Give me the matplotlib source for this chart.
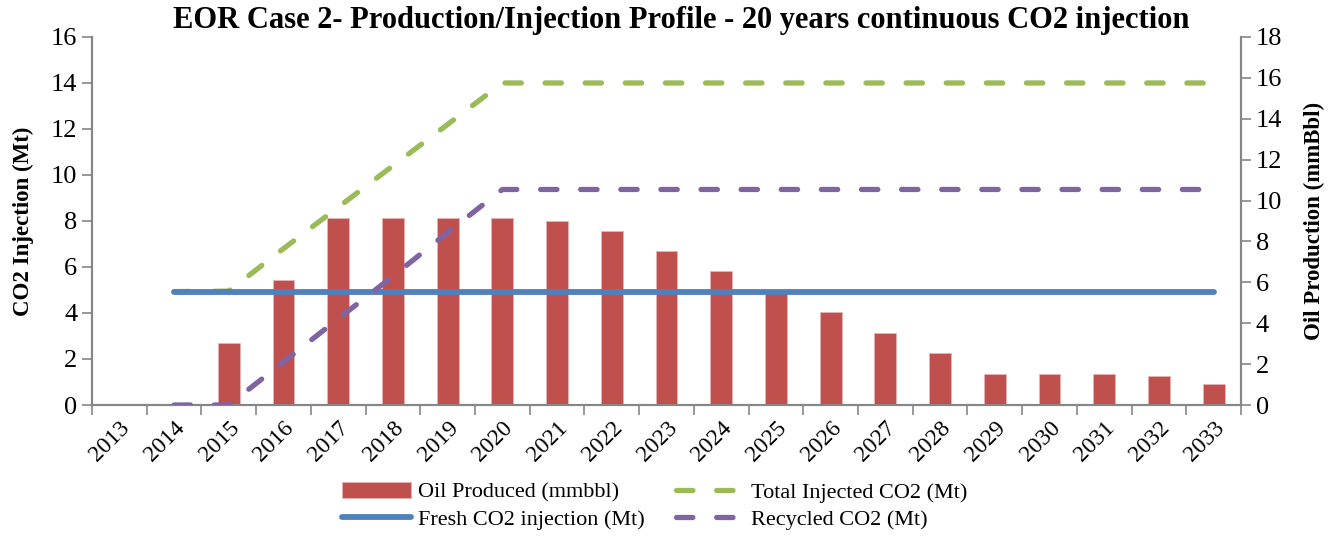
import matplotlib
matplotlib.use("Agg")
import matplotlib.pyplot as plt
import matplotlib.transforms as mtransforms
import numpy as np

years = list(range(2013, 2034))
oil_produced = [0, 0, 3.05, 6.1, 9.13, 9.13, 9.13, 9.13, 9.0, 8.53, 7.53,
                6.54, 5.49, 4.53, 3.52, 2.52, 1.53, 1.53, 1.53, 1.42, 1.03]
line_years = list(range(2014, 2034))
fresh_co2 = [4.93] * 20
total_co2 = [4.93, 4.95, 6.8, 8.6, 10.4, 12.2, 14.0] + [14.0] * 13
recycled_co2 = [0, 0, 1.87, 3.75, 5.6, 7.5, 9.37] + [9.37] * 13

RED = "#C0504D"
BLUE = "#4F81BD"
GREEN = "#9BBB59"
PURPLE = "#8064A2"
AXIS_GRAY = "#868686"
SERIF = "Liberation Serif"

plt.rcParams["font.family"] = SERIF

fig = plt.figure(figsize=(13.31, 5.36), dpi=100)
ax = fig.add_axes([0.0691, 0.2444, 0.8633, 0.6866])
ax2 = ax.twinx()

x = np.arange(len(years))
xl = np.array([years.index(y) for y in line_years])

ax2.bar(x, oil_produced, 0.4, color=RED, edgecolor="#E8B5B4", linewidth=0.6,
        label="Oil Produced (mmbbl)")

ax.plot(xl, fresh_co2, color=BLUE, lw=4.2, solid_capstyle="round", zorder=3,
        label="Fresh CO2 injection (Mt)")
ax.plot(xl, total_co2, color=GREEN, lw=3.8, dashes=(3.1, 4.5), zorder=2,
        dash_capstyle="round", label="Total Injected CO2 (Mt)")
ax.plot(xl, recycled_co2, color=PURPLE, lw=3.8, dashes=(3.1, 4.5), zorder=4,
        dash_capstyle="round", label="Recycled CO2 (Mt)")

ax.set_zorder(ax2.get_zorder() + 1)
ax.patch.set_visible(False)

ax.set_xlim(-0.5, len(years) - 0.5)
ax.set_ylim(0, 16)
ax2.set_ylim(0, 18)
ax.set_yticks(np.arange(0, 17, 2))
ax2.set_yticks(np.arange(0, 19, 2))

ax.set_xticks(x)
ax.set_xticklabels([str(y) for y in years], rotation=45, ha="right",
                   va="top", rotation_mode="anchor", fontsize=17)
shift = mtransforms.ScaledTranslation(0.06, 0, fig.dpi_scale_trans)
for lab in ax.get_xticklabels():
    lab.set_transform(lab.get_transform() + shift)
ax.set_xticks(np.arange(-0.5, len(years) + 0.5, 1), minor=True)
ax.tick_params(axis="x", which="major", length=0, pad=9)
ax.tick_params(axis="x", which="minor", length=7, width=1.2, color=AXIS_GRAY)
ax.tick_params(axis="y", labelsize=19, length=7, width=1.2, color=AXIS_GRAY)
ax2.tick_params(axis="y", labelsize=19, length=7, width=1.2, color=AXIS_GRAY)

for a in (ax, ax2):
    a.spines["top"].set_visible(False)
    for s in ("left", "right", "bottom"):
        a.spines[s].set_color(AXIS_GRAY)
        a.spines[s].set_linewidth(1.5)

ax.set_ylabel("CO2 Injection (Mt)", fontsize=16.5, fontweight="bold", labelpad=12)
ax2.set_ylabel("Oil Production (mmBbl)", fontsize=16.5, fontweight="bold",
               labelpad=16)

fig.text(0.512, 0.962,
         "EOR Case 2- Production/Injection Profile - 20 years continuous CO2 injection",
         ha="center", va="center", fontsize=22, fontweight="bold")

h2, l2 = ax2.get_legend_handles_labels()
h1, l1 = ax.get_legend_handles_labels()
handles = [h2[0], h1[0], h1[1], h1[2]]
labels = [l2[0], l1[0], l1[1], l1[2]]
fig.legend(handles, labels, loc="center", bbox_to_anchor=(0.492, 0.056), ncol=2,
           frameon=False, fontsize=16, handlelength=3.1, handletextpad=0.3,
           columnspacing=1.4, labelspacing=0.3)

fig.savefig("out.png", dpi=100)
